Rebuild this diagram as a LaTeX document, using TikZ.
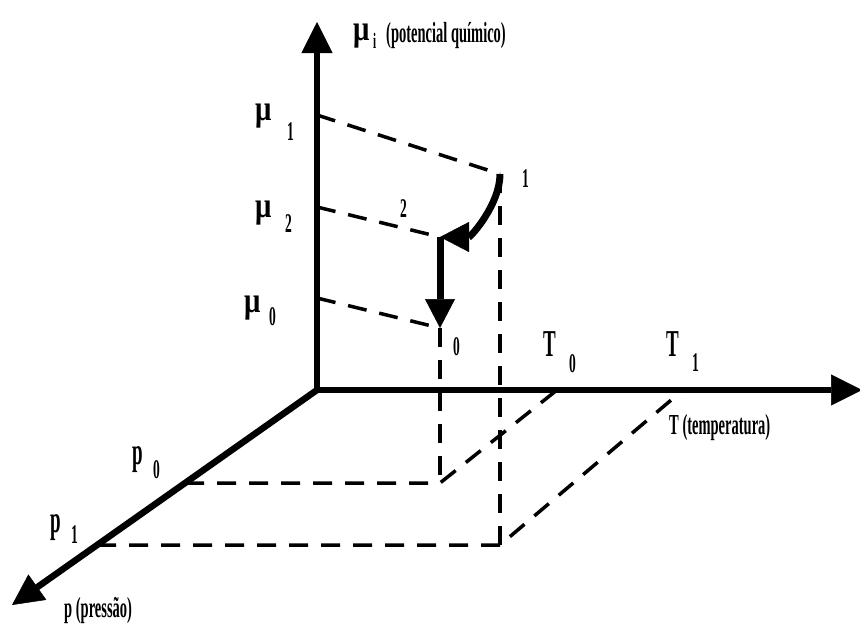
\documentclass[tikz,border=0pt]{standalone}
\usepackage{fontspec}
\setmainfont[FakeStretch=0.5]{Liberation Serif}
\newfontfamily\mufont[FakeStretch=0.8]{Liberation Serif}
\usetikzlibrary{arrows.meta}

\begin{document}
\begin{tikzpicture}[
        x=1pt, y=-1pt,
        axtip/.tip={Triangle[length=31pt, width=31pt, line width=0.5pt]},
        pathtip/.tip={Triangle[length=29pt, width=30pt, line width=0.5pt]},
        axis/.style={line width=6.5pt},
        guide/.style={line width=3.5pt, dash pattern=on 19pt off 13pt},
        move/.style={line width=7pt, -pathtip},
        sym/.style={anchor=base west, inner sep=0pt, font=\bfseries\fontsize{38}{40}\selectfont},
        musym/.style={anchor=base west, inner sep=0pt, font=\mufont\bfseries\fontsize{36}{40}\selectfont},
        idx/.style={anchor=base west, inner sep=0pt, font=\bfseries\fontsize{27}{29}\selectfont},
        caption/.style={anchor=base west, inner sep=0pt, font=\bfseries\fontsize{29}{31}\selectfont}
      ]
        \useasboundingbox (0,0) rectangle (860,625);

        \coordinate (O) at (317,390);
        \coordinate (muend) at (317,22);
        \coordinate (Tend) at (862,390);
        \coordinate (pend) at (12,605);
        \coordinate (mu1) at (317,115);
        \coordinate (mu2) at (317,207);
        \coordinate (mu0) at (317,298);
        \coordinate (pt1) at (500,174);
        \coordinate (pt2) at (440,237);
        \coordinate (pt0) at (440,328);
        \coordinate (T0) at (557,390);
        \coordinate (T1) at (683,390);
        \coordinate (p0) at (185,483);
        \coordinate (p1) at (97,545);
        \coordinate (f0) at (440,483);
        \coordinate (f1) at (500,545);

        \draw[guide] (mu1) -- (pt1);
        \draw[guide] (mu2) -- (pt2);
        \draw[guide] (mu0) -- (pt0);
        \draw[guide] (pt1) -- (f1);
        \draw[guide] (pt0) -- (f0);
        \draw[guide] (p0) -- (f0) -- (T0);
        \draw[guide] (p1) -- (f1) -- (T1);

        \draw[axis, axtip-axtip] (muend) -- (O) -- (Tend);
        \draw[axis, -axtip] (O) -- (pend);

        \draw[move] (pt1) to[out=-90, in=0, looseness=0.9] (pt2);
        \draw[move] (pt2) -- (pt0);

        \node[musym] (muL) at (353,40) {μ};
        \node[idx, font=\bfseries\fontsize{22}{24}\selectfont] (muLi) at (373,48) {i};
        \node[caption] (muLtxt) at (386,42) {(potencial químico)};

        \node[musym] (mu1L) at (255,120) {μ};
        \node[idx] (mu1i) at (287,140) {1};
        \node[musym] (mu2L) at (255,217) {μ};
        \node[idx] (mu2i) at (285,232) {2};
        \node[musym] (mu0L) at (244,312) {μ};
        \node[idx] (mu0i) at (269,325) {0};

        \node[idx] (pt1L) at (522,187) {1};
        \node[idx] (pt2L) at (400,217) {2};
        \node[idx] (pt0L) at (453,355) {0};

        \node[sym] (T0L) at (543,356) {T};
        \node[idx] (T0i) at (569,372) {0};
        \node[sym] (T1L) at (666,356) {T};
        \node[idx] (T1i) at (692,371) {1};
        \node[caption] (Ttxt) at (669,434) {T (temperatura)};

        \node[sym] (p0L) at (132,464) {p};
        \node[idx] (p0i) at (153,478) {0};
        \node[sym] (p1L) at (50,532) {p};
        \node[idx] (p1i) at (71,543) {1};
        \node[caption] (ptxt) at (64,617) {p (pressão)};
      \end{tikzpicture}
\end{document}
